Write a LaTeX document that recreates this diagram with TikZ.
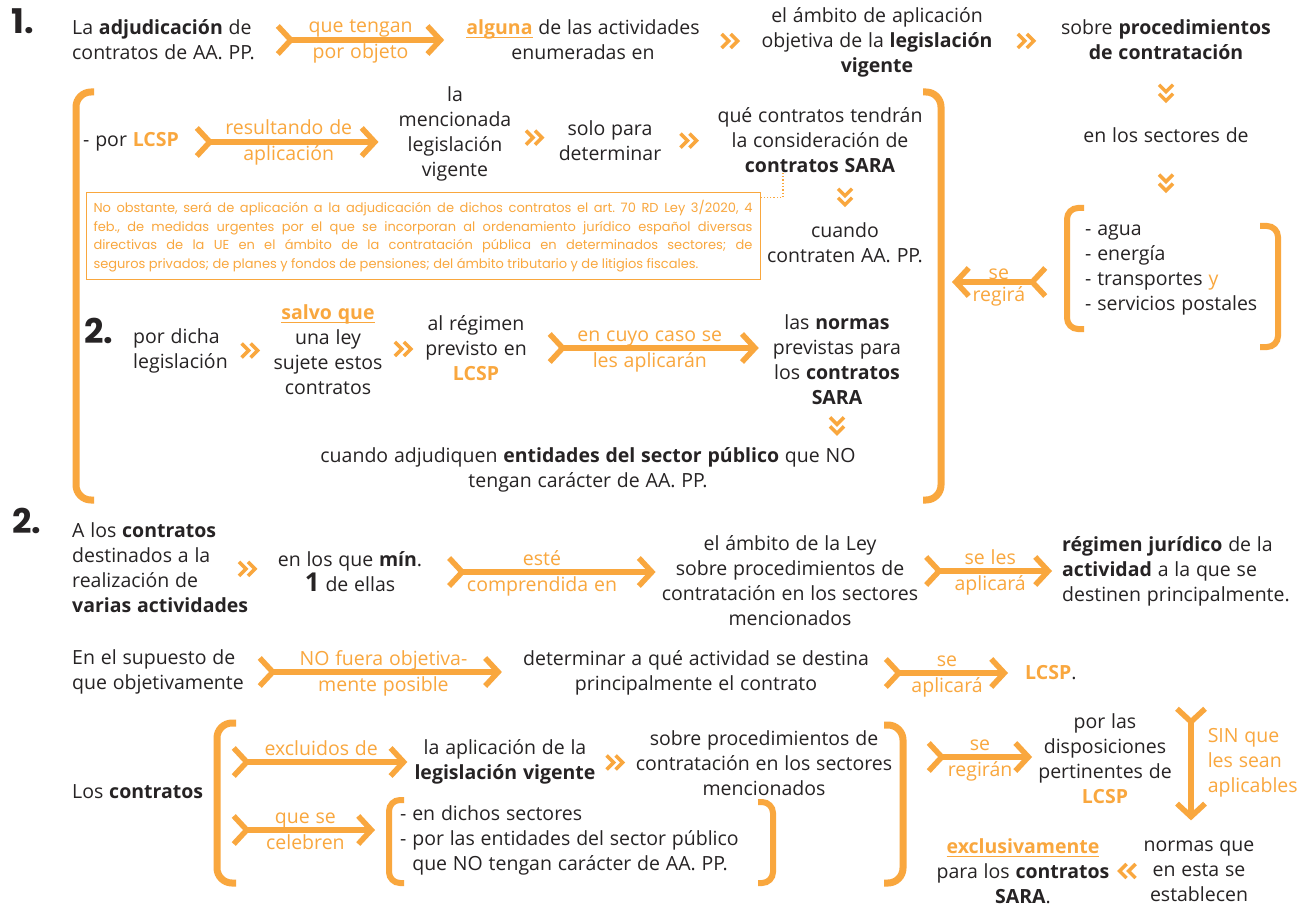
\documentclass[tikz,border=0pt]{standalone}
\usepackage{fontspec}
\setmainfont{Open Sans}[WordSpace=1.15]
\newfontfamily\numfont{Poppins}
\newfontfamily\notefont{Poppins}
\usetikzlibrary{arrows.meta,decorations.markings}

\definecolor{orng}{HTML}{F9A73E}
\definecolor{ink}{HTML}{262324}

% orange keyword, underlined keyword
\newcommand\orb[1]{\textcolor{orng}{\textbf{#1}}}
\newcommand\ulo[1]{\setbox0\hbox{#1}\rlap{\rule[-3.5pt]{\wd0}{1.2pt}}\box0}

\tikzset{
  txt/.style={font=\fontsize{19.5}{25}\selectfont, text=ink, align=center, inner sep=0pt},
  ltxt/.style={txt, align=left, anchor=west},
  secnum/.style={font=\numfont\bfseries\fontsize{34}{34}\selectfont, text=ink, inner sep=0pt},
  lbl/.style={font=\fontsize{19.5}{25}\selectfont, text=orng, inner sep=0pt, anchor=base},
  toplbl/.style={lbl, yshift=7pt},
  botlbl/.style={lbl, yshift=-19pt},
  sidelbl/.style={font=\fontsize{19.5}{25}\selectfont, text=orng, inner sep=0pt, align=left, anchor=west},
  bigarr/.style={draw=orng, line width=5.5pt,
    {Straight Barb[reversed,length=13pt,width=28pt]}-{Straight Barb[length=13pt,width=28pt]}},
  brk/.style={draw=orng, line width=7pt, rounded corners=15pt},
  smallbrk/.style={draw=orng, line width=6pt, rounded corners=11pt},
  dchev/.style={postaction=decorate, decoration={markings, mark=at position .5 with {
      \pgftransformresetnontranslations\pgftransformrotate{#1}
      \draw[orng, line width=3.5pt] (-9,-7) -- (-2,0) -- (-9,7) (0,-7) -- (7,0) -- (0,7);}}},
  dchev/.default=0,
  notebox/.style={draw=orng, line width=1pt, text=orng, inner xsep=7.5pt, inner ysep=0pt,
    font=\notefont\fontsize{13}{18.5}\selectfont\frenchspacing, text width=659pt, align=justify,
    minimum height=86pt}
}

\begin{document}
\begin{tikzpicture}[x=1pt,y=-1pt]
\fill[white] (0,0) rectangle (1313,909);
\useasboundingbox (0,0) rectangle (1313,909);

% 1.
\node[secnum] (n1) at (23,21) {1.};
\node[ltxt] (adj) at (72,40) {La \textbf{adjudicación} de\\contratos de AA. PP.};
\node[txt] (alg) at (583,40) {\textcolor{orng}{\ulo{\textbf{alguna}}} de las actividades\\enumeradas en};
\node[txt] (amb) at (877,42) {el ámbito de aplicación\\objetiva de la \textbf{legislación}\\\textbf{vigente}};
\node[txt] (proc) at (1166,40) {sobre \textbf{procedimientos}\\\textbf{de contratación}};
\node[txt] (sect) at (1166,135) {en los sectores de};
\node[ltxt] (list) at (1085,270) {- agua\\- energía\\- transportes \textcolor{orng}{y}\\- servicios postales};
\coordinate (brR) at (946,282);

\draw[bigarr, shorten <=20pt, shorten >=22pt] (adj) -- (alg)
  node[midway, toplbl] {que tengan} node[midway, botlbl] {por objeto};
\path[dchev] (alg) -- (amb);
\path[dchev] (amb) -- (proc);
\path[dchev=-90] (proc) -- (sect);
\path[dchev=-90] (sect) -- (sect |- list.north);
\draw[bigarr, shorten <=37pt, shorten >=6pt] (list.west |- brR) -- (brR)
  node[pos=.62, toplbl, yshift=-4pt] {se} node[pos=.62, botlbl] {regirá};

\draw[brk] (94,92) -| (76,500) -- (94,500);
\draw[brk] (923,92) -| (941,500) -- (923,500);
\draw[smallbrk] (1084,208) -| (1067,329) -- (1084,329);
\draw[smallbrk] (1260,226) -| (1278,347) -- (1260,347);

% inside the bracket
\node[ltxt] (porl) at (83,142) {- por \orb{LCSP}};
\node[txt] (menc) at (455,134) {la\\mencionada\\legislación\\vigente};
\node[txt] (solo) at (610,141) {solo para\\determinar};
\node[txt] (que) at (820,140) {qué contratos tendrán\\la consideración de\\\textbf{contratos SARA}};
\node[txt] (cuando) at (845,243) {cuando\\contraten AA. PP.};
\node[notebox] (note) at (423,236) {No obstante, será de aplicación a la adjudicación de dichos contratos el art. 70 RD Ley 3/2020, 4\linebreak
  feb., de medidas urgentes por el que se incorporan al ordenamiento jurídico español diversas\linebreak
  directivas de la UE en el ámbito de la contratación pública en determinados sectores; de\linebreak
  seguros privados; de planes y fondos de pensiones; del ámbito tributario y de litigios fiscales.};

\draw[bigarr, shorten <=15pt, shorten >=20pt] (porl) -- (porl -| menc.west)
  node[midway, toplbl] {resultando de} node[midway, botlbl] {aplicación};
\path[dchev] (menc) -- (solo);
\path[dchev] (solo) -- (que);
\path[dchev=-90] (que.south -| cuando) -- (cuando);
\draw[dotted, orng, line width=1.3pt] ([xshift=-37pt]que.south) |- ([yshift=-5pt]note.north east);

\node[secnum] (n2a) at (99,331) {2.};
\node[ltxt] (dicha) at (133,351) {por dicha\\legislación};
\node[txt] (salvo) at (328,350) {\textcolor{orng}{\ulo{\textbf{salvo que}}}\\una ley\\sujete estos\\contratos};
\node[txt] (regim) at (476,348) {al régimen\\previsto en\\\orb{LCSP}};
\node[txt] (normas) at (837,360) {las \textbf{normas}\\previstas para\\los \textbf{contratos}\\\textbf{SARA}};
\node[txt] (adjq) at (588,470) {cuando adjudiquen \textbf{entidades del sector público} que NO\\tengan carácter de AA. PP.};

\path[dchev] (dicha) -- (salvo);
\path[dchev] (salvo) -- (regim);
\draw[bigarr, shorten <=20pt, shorten >=14pt] (regim) -- (regim -| normas.west)
  node[midway, toplbl] {en cuyo caso se} node[midway, botlbl] {les aplicarán};
\path[dchev=-90] (normas) -- (normas |- adjq.north);

% 2.
\node[secnum] (n2) at (27,521) {2.};
\node[ltxt] (varias) at (72,568) {A los \textbf{contratos}\\destinados a la\\realización de\\\textbf{varias actividades}};
\node[txt] (minimo) at (350,572) {en los que \textbf{mín}.\\{\fontsize{26}{25}\selectfont\textbf{1}} de ellas};
\node[txt] (ambley) at (790,581) {el ámbito de la Ley\\sobre procedimientos de\\contratación en los sectores\\mencionados};
\node[ltxt] (regjur) at (1062,571) {\textbf{régimen jurídico} de la\\\textbf{actividad} a la que se\\destinen principalmente.};

\path[dchev] ([xshift=-30pt]varias.east) -- (minimo);
\draw[bigarr, shorten <=24pt, shorten >=6pt] (minimo) -- (minimo -| ambley.west)
  node[midway, toplbl] {esté} node[midway, botlbl] {comprendida en};
\draw[bigarr, shorten <=5pt, shorten >=10pt] (ambley.east |- regjur) -- (regjur.west)
  node[midway, toplbl] {se les} node[midway, botlbl] {aplicará};

\node[ltxt] (supu) at (72,672) {En el supuesto de\\que objetivamente};
\node[txt] (determ) at (696,673) {determinar a qué actividad se destina\\principalmente el contrato};
\node[ltxt] (lcsp) at (1025,673) {\orb{LCSP}.};
\draw[bigarr, shorten <=13pt, shorten >=21pt] (supu) -- (supu -| determ.west)
  node[midway, toplbl] {NO fuera objetiva-} node[midway, botlbl] {mente posible};
\draw[bigarr, shorten <=14pt, shorten >=17pt] (determ.east |- lcsp) -- (lcsp.west)
  node[midway, toplbl] {se} node[midway, botlbl] {aplicará};

% contratos excluidos
\node[ltxt] (loscon) at (72,792) {Los \textbf{contratos}};
\coordinate (bkA) at (228,762);
\coordinate (bkB) at (228,830);
\node[txt] (aplic) at (505,762) {la aplicación de la\\\textbf{legislación vigente}};
\node[txt] (sobre) at (764,763) {sobre procedimientos de\\contratación en los sectores\\mencionados};
\node[ltxt] (dichos) at (400,840) {- en dichos sectores\\- por las entidades del sector público\\\hphantom{- }que NO tengan carácter de AA. PP.};
\coordinate (bkR) at (922,757);
\node[txt] (porlas) at (1105,759) {por las\\disposiciones\\pertinentes de\\\orb{LCSP}};
\coordinate (sinTop) at (1191,706);
\node[txt] (exclus) at (1023,871) {\textcolor{orng}{\ulo{\textbf{exclusivamente}}}\\para los \textbf{contratos}\\\textbf{SARA}.};
\node[txt] (normq) at (1199,871) {normas que\\en esta se\\establecen};

\draw[brk] (236,723) -| (217,883) -- (236,883);
\draw[brk] (884,725) -| (903,883) -- (884,883);
\draw[smallbrk] (404,800) -| (389,883) -- (404,883);
\draw[smallbrk] (758,802) -| (773,883) -- (758,883);

\draw[bigarr, shorten <=3pt, shorten >=7pt] (bkA) -- (aplic)
  node[midway, toplbl] {excluidos de};
\draw[bigarr, shorten <=3pt, shorten >=25pt] (bkB) -- (dichos.west |- bkB)
  node[pos=.45, toplbl] {que se} node[pos=.45, botlbl] {celebren};
\path[dchev] (aplic) -- (sobre);
\draw[bigarr, shorten <=4pt, shorten >=6pt] (bkR) -- (porlas.west |- bkR)
  node[midway, toplbl] {se} node[midway, botlbl] {regirán};
\draw[bigarr, shorten >=20pt] (sinTop) -- (sinTop |- normq.north)
  node[pos=.42, sidelbl, xshift=14pt] {SIN que\\les sean\\aplicables};
\path[dchev=180] (normq) -- (exclus);
\end{tikzpicture}
\end{document}
